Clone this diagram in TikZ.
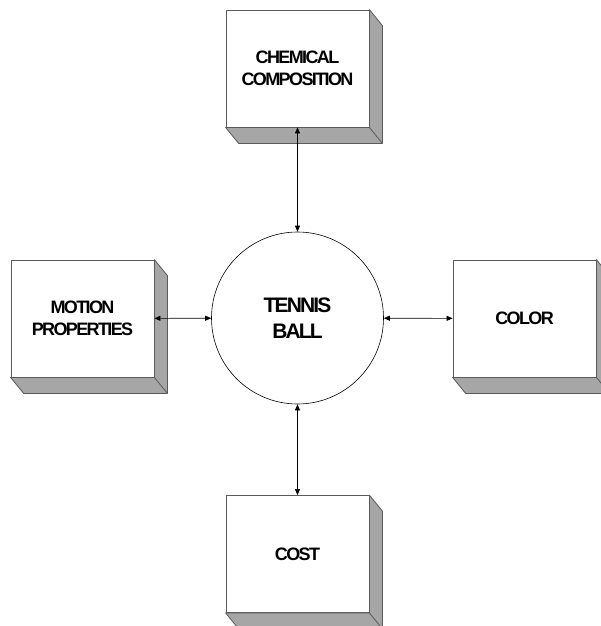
\documentclass[tikz,border=0pt]{standalone}
\usepackage{fontspec}
\setmainfont{Liberation Sans}[LetterSpace=-9]
\usetikzlibrary{arrows.meta}
\usetikzlibrary{shapes.geometric}

\definecolor{slabgray}{RGB}{166,166,166}
\definecolor{edgegray}{RGB}{90,90,90}

\tikzset{
	slab/.style={draw=edgegray,fill=white,line width=0.8pt,
		minimum width=143pt,minimum height=117pt,inner sep=0pt,
		align=center,font=\fontsize{18}{22}\selectfont\bfseries},
	ball/.style={circle,draw,line width=0.6pt,minimum size=172pt,
		align=center,font=\fontsize{21}{26}\selectfont\bfseries},
	link/.style={{Triangle[length=6pt,width=5pt]}-{Triangle[length=6pt,width=5pt]},line width=0.6pt}
}

\begin{document}
\begin{tikzpicture}[x=1pt,y=-1pt]
	\useasboundingbox (0,0) rectangle (600,626);
	%%%%%%%%%%%%%%%
	\node[ball] (tb) at (297.5,318) {TENNIS\\BALL};
	%%%%%%%%%%%%%%%
	\node[slab] (chem) at (297.5,68.5) {CHEMICAL\\COMPOSITION};
	\node[slab] (mot) at (82.5,318.5) {MOTION\\PROPERTIES};
	\node[slab] (col) at (524.5,318.5) {COLOR};
	\node[slab] (cost) at (297.5,554) {COST};
	%%%%%%%%%%%%%%%
	% depth of the boxes
	\foreach \n in {chem,mot,col,cost}{
		\filldraw[fill=slabgray,draw=edgegray,line width=0.8pt,line join=round]
			(\n.north east) -- ++(13,16) -- ([shift={(13,16)}]\n.south east)
			-- ([shift={(13,16)}]\n.south west) -- (\n.south west)
			-- (\n.south east) -- cycle;
		\draw[edgegray,line width=0.8pt] (\n.south east) -- ++(13,16);
	}
	%%%%%%%%%%%%%%%
	\draw[link] (chem) -- (tb);
	\draw[link] (mot) -- (tb);
	\draw[link] (tb) -- (col);
	\draw[link] (tb) -- (cost);
\end{tikzpicture}
\end{document}
